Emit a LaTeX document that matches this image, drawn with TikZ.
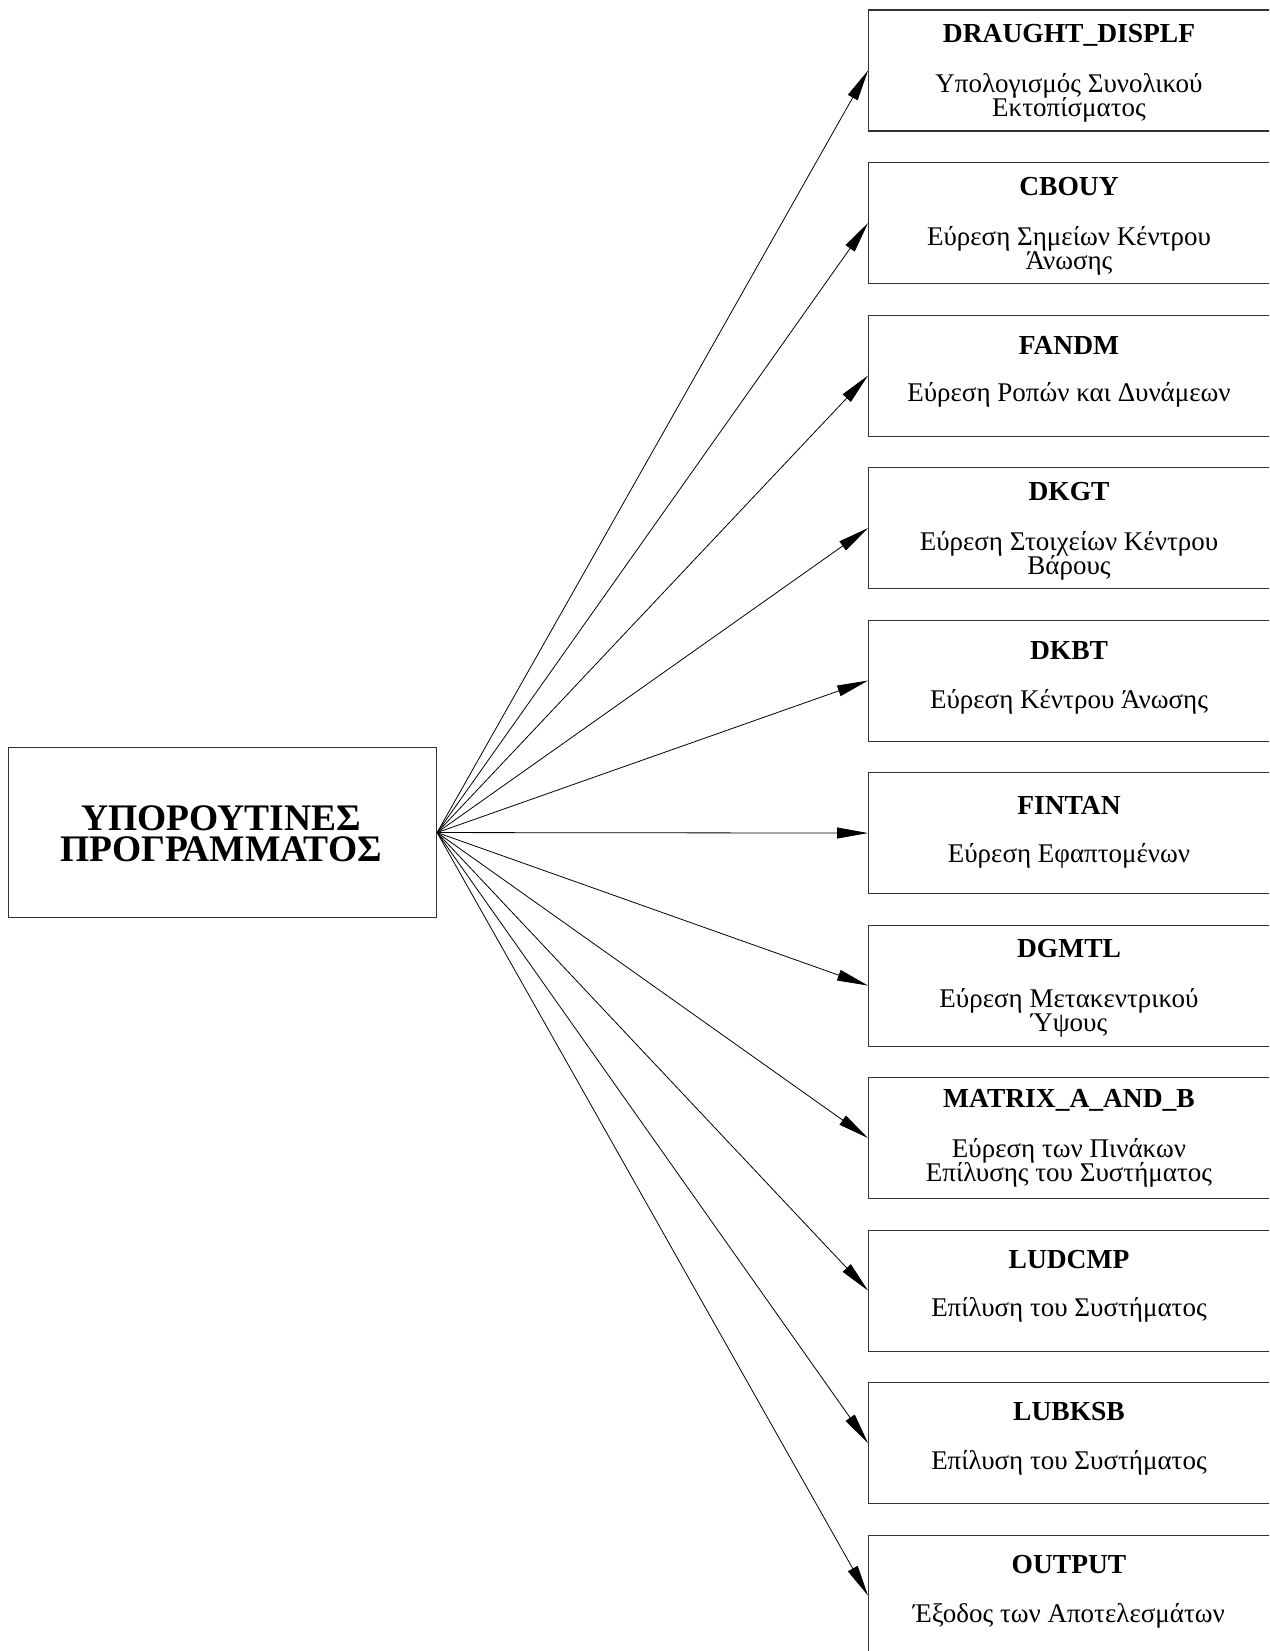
\documentclass[tikz,border=0pt]{standalone}
\usepackage{fontspec}
\setmainfont{Liberation Serif}
\usetikzlibrary{arrows.meta}
\begin{document}
\begin{tikzpicture}[x=1pt,y=-1pt,
  subbox/.style={draw=black!80, line width=1.1pt, minimum width=403pt, minimum height=121pt, anchor=north west, inner sep=0pt},
  mainbox/.style={draw=black!80, line width=1.1pt, minimum width=428pt, minimum height=170pt, anchor=north west, inner sep=0pt},
  ttl/.style={anchor=base, font=\fontsize{27.5}{28}\selectfont\bfseries, inner sep=0pt},
  dsc/.style={anchor=base, font=\fontsize{27}{27}\selectfont, inner sep=0pt},
  mainttl/.style={anchor=base, font=\fontsize{37.5}{38}\selectfont\bfseries, inner sep=0pt},
  conn/.style={-{Triangle[length=31pt,width=11pt]}, line width=0.8pt}]
\useasboundingbox (0,0) rectangle (1269,1651);
\clip (0,0) rectangle (1269,1651);
\fill[white] (0,0) rectangle (1269,1651);

% main box
\node[mainbox] (main) at (8,747) {};
\node[mainttl] (m1) at (221,830) {ΥΠΟΡΟΥΤΙΝΕΣ};
\node[mainttl] (m2) at (221,861) {ΠΡΟΓΡΑΜΜΑΤΟΣ};

% sub boxes (tops at 9.5 + 152.5k)
\node[subbox] (b0) at (868,9.5) {};
\node[ttl] (t0) at (1069,42.5) {DRAUGHT\_DISPLF};
\node[dsc] (d0a) at (1069,92.5) {Υπολογισμός Συνολικού};
\node[dsc] (d0b) at (1069,116.5) {Εκτοπίσματος};

\node[subbox] (b1) at (868,162) {};
\node[ttl] (t1) at (1069,195) {CBOUY};
\node[dsc] (d1a) at (1069,245) {Εύρεση Σημείων Κέντρου};
\node[dsc] (d1b) at (1069,269) {Άνωσης};

\node[subbox] (b2) at (868,314.5) {};
\node[ttl] (t2) at (1069,354) {FANDM};
\node[dsc] (d2a) at (1069,401) {Εύρεση Ροπών και Δυνάμεων};

\node[subbox] (b3) at (868,467) {};
\node[ttl] (t3) at (1069,500) {DKGT};
\node[dsc] (d3a) at (1069,550) {Εύρεση Στοιχείων Κέντρου};
\node[dsc] (d3b) at (1069,574) {Βάρους};

\node[subbox] (b4) at (868,619.5) {};
\node[ttl] (t4) at (1069,659.5) {DKBT};
\node[dsc] (d4a) at (1069,708) {Εύρεση Κέντρου Άνωσης};

\node[subbox] (b5) at (868,772) {};
\node[ttl] (t5) at (1069,814.5) {FINTAN};
\node[dsc] (d5a) at (1069,862) {Εύρεση Εφαπτομένων};

\node[subbox] (b6) at (868,924.5) {};
\node[ttl] (t6) at (1069,957.5) {DGMTL};
\node[dsc] (d6a) at (1069,1007.5) {Εύρεση Μετακεντρικού};
\node[dsc] (d6b) at (1069,1031.5) {Ύψους};

\node[subbox] (b7) at (868,1077) {};
\node[ttl] (t7) at (1069,1107) {MATRIX\_A\_AND\_B};
\node[dsc] (d7a) at (1069,1157) {Εύρεση των Πινάκων};
\node[dsc] (d7b) at (1069,1181) {Επίλυσης του Συστήματος};

\node[subbox] (b8) at (868,1229.5) {};
\node[ttl] (t8) at (1069,1268.5) {LUDCMP};
\node[dsc] (d8a) at (1069,1316.5) {Επίλυση του Συστήματος};

\node[subbox] (b9) at (868,1382) {};
\node[ttl] (t9) at (1069,1420.5) {LUBKSB};
\node[dsc] (d9a) at (1069,1469.5) {Επίλυση του Συστήματος};

\node[subbox] (b10) at (868,1534.5) {};
\node[ttl] (t10) at (1069,1573.5) {OUTPUT};
\node[dsc] (d10a) at (1069,1622) {Έξοδος των Αποτελεσμάτων};

% connectors
\foreach \k in {0,...,10}{
  \draw[conn] (main.east) -- (b\k.west);
}
\end{tikzpicture}
\end{document}
